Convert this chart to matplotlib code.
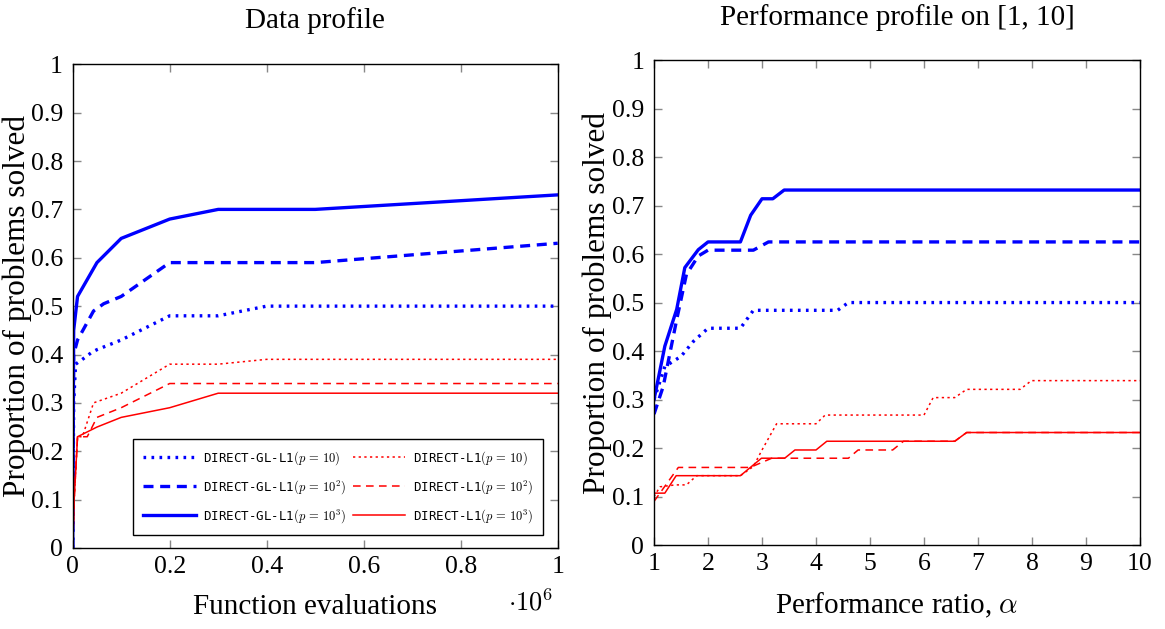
import numpy as np
import matplotlib.pyplot as plt
from matplotlib.ticker import FuncFormatter

plt.rcParams['font.family'] = ['Liberation Serif', 'DejaVu Serif']
plt.rcParams['mathtext.fontset'] = 'cm'

# ---- data profile (x = function evaluations) ----
dp_gl10_x = [0, 2000, 6000, 20000, 40000, 50000, 100000, 200000, 300000, 400000, 1000000]
dp_gl10_y = [0, 0.30, 0.38, 0.39, 0.405, 0.41, 0.43, 0.48, 0.48, 0.50, 0.50]
dp_gl100_x = [0, 2000, 10000, 43000, 64000, 100000, 200000, 500000, 1000000]
dp_gl100_y = [0, 0.40, 0.43, 0.49, 0.505, 0.52, 0.59, 0.59, 0.63]
dp_gl1000_x = [0, 2000, 10000, 50000, 100000, 200000, 300000, 500000, 1000000]
dp_gl1000_y = [0, 0.45, 0.52, 0.59, 0.64, 0.68, 0.70, 0.70, 0.73]
dp_l10_x = [0, 3000, 10000, 20000, 43000, 100000, 200000, 300000, 400000, 1000000]
dp_l10_y = [0, 0.10, 0.23, 0.23, 0.30, 0.32, 0.38, 0.38, 0.39, 0.39]
dp_l100_x = [0, 3000, 10000, 30000, 50000, 100000, 200000, 1000000]
dp_l100_y = [0, 0.10, 0.23, 0.23, 0.27, 0.29, 0.34, 0.34]
dp_l1000_x = [0, 3000, 10000, 30000, 50000, 100000, 200000, 300000, 1000000]
dp_l1000_y = [0, 0.10, 0.23, 0.24, 0.25, 0.27, 0.29, 0.32, 0.32]

# ---- performance profile (x = performance ratio alpha) ----
pp_gl10_x = [1, 1.2, 1.5, 1.73, 2.0, 2.6, 2.84, 4.4, 4.6, 10]
pp_gl10_y = [0.30, 0.368, 0.389, 0.42, 0.447, 0.447, 0.484, 0.484, 0.50, 0.50]
pp_gl100_x = [1, 1.17, 1.42, 1.6, 1.82, 2.0, 2.84, 3.12, 10]
pp_gl100_y = [0.27, 0.327, 0.465, 0.558, 0.596, 0.608, 0.608, 0.625, 0.625]
pp_gl1000_x = [1, 1.2, 1.42, 1.57, 1.82, 2.0, 2.6, 2.79, 3.0, 3.2, 3.41, 10]
pp_gl1000_y = [0.30, 0.41, 0.486, 0.572, 0.609, 0.625, 0.625, 0.68, 0.714, 0.714, 0.732, 0.732]
pp_l10_x = [1, 1.11, 1.39, 1.6, 1.79, 2.6, 2.84, 3.0, 3.27, 4.0, 4.17, 6.0, 6.17, 6.57, 6.79, 7.78, 7.99, 10]
pp_l10_y = [0.10, 0.12, 0.124, 0.124, 0.143, 0.143, 0.162, 0.196, 0.25, 0.25, 0.268, 0.268, 0.304, 0.304, 0.321, 0.321, 0.339, 0.339]
pp_l100_x = [1, 1.45, 2.78, 3.18, 4.6, 4.78, 5.42, 5.62, 6.57, 6.79, 10]
pp_l100_y = [0.09, 0.16, 0.16, 0.179, 0.179, 0.196, 0.196, 0.214, 0.214, 0.232, 0.232]
pp_l1000_x = [1, 1.2, 1.41, 2.6, 2.99, 3.42, 3.61, 4.0, 4.2, 6.57, 6.79, 10]
pp_l1000_y = [0.107, 0.107, 0.143, 0.143, 0.179, 0.179, 0.196, 0.196, 0.214, 0.214, 0.232, 0.232]

labels = [r'DIRECT-GL-L1$(p\,=\,10)$', r'DIRECT-GL-L1$(p\,=\,10^2)$', r'DIRECT-GL-L1$(p\,=\,10^3)$',
          r'DIRECT-L1$(p\,=\,10)$', r'DIRECT-L1$(p\,=\,10^2)$', r'DIRECT-L1$(p\,=\,10^3)$']
styles = [dict(color='#0000ff', lw=2.4, ls=(0, (0.8, 1.6))),
          dict(color='#0000ff', lw=2.4, ls=(0, (3, 2))),
          dict(color='#0000ff', lw=2.4, ls='-'),
          dict(color='#ff0000', lw=1.1, ls=(0, (1.5, 2.2))),
          dict(color='#ff0000', lw=1.1, ls=(0, (5, 3.5))),
          dict(color='#ff0000', lw=1.1, ls='-')]

fig = plt.figure(figsize=(11.65, 6.29), dpi=100)
ax1 = fig.add_axes([0.0624, 0.1288, 0.4163, 0.769])
ax2 = fig.add_axes([0.5614, 0.1335, 0.4171, 0.771])

dp = [(dp_gl10_x, dp_gl10_y), (dp_gl100_x, dp_gl100_y), (dp_gl1000_x, dp_gl1000_y),
      (dp_l10_x, dp_l10_y), (dp_l100_x, dp_l100_y), (dp_l1000_x, dp_l1000_y)]
pp = [(pp_gl10_x, pp_gl10_y), (pp_gl100_x, pp_gl100_y), (pp_gl1000_x, pp_gl1000_y),
      (pp_l10_x, pp_l10_y), (pp_l100_x, pp_l100_y), (pp_l1000_x, pp_l1000_y)]

handles = []
for (x, y), st, lab in zip(dp, styles, labels):
    h, = ax1.plot(np.array(x) / 1e6, y, label=lab, **st)
    handles.append(h)
for (x, y), st in zip(pp, styles):
    ax2.plot(x, y, **st)

fmt = FuncFormatter(lambda v, p: ('%g' % round(v, 2)))
for ax in (ax1, ax2):
    ax.set_ylim(0, 1)
    ax.set_yticks(np.arange(0, 1.01, 0.1))
    ax.yaxis.set_major_formatter(fmt)
    ax.xaxis.set_major_formatter(fmt)
    ax.tick_params(direction='in', length=6, width=1, color='#888888',
                   top=True, right=True, labelsize=18.5)
    ax.tick_params(axis='y', pad=7)
    ax.tick_params(axis='x', pad=6)
    for s in ax.spines.values():
        s.set_linewidth(1.0)
    ax.set_ylabel('Proportion of problems solved', fontsize=22.5)

ax1.set_xlim(0, 1)
ax1.set_xticks(np.arange(0, 1.01, 0.2))
ax1.text(0.5, 1.091, 'Data profile', transform=ax1.transAxes, fontsize=21, ha='center', va='center')
ax1.set_xlabel('Function evaluations', fontsize=21)
ax1.yaxis.set_label_coords(-0.083, 0.5)
ax1.xaxis.set_label_coords(0.5, -0.095)
ax1.text(0.945, -0.112, r'$\cdot10^6$', transform=ax1.transAxes, fontsize=19, ha='center', va='center')

ax2.set_xlim(1, 10)
ax2.set_xticks(range(1, 11))
ax2.text(0.5, 1.087, 'Performance profile on [1, 10]', transform=ax2.transAxes, fontsize=21,
         ha='center', va='center')
ax2.set_xlabel(r'Performance ratio, $\alpha$', fontsize=21)
ax2.yaxis.set_label_coords(-0.086, 0.5)
ax2.xaxis.set_label_coords(0.5, -0.095)

leg = ax1.legend(handles=handles, ncol=2, loc='lower right', bbox_to_anchor=(0.97, 0.027),
                 prop={'family': 'DejaVu Sans Mono', 'size': 9}, fancybox=False,
                 edgecolor='black', framealpha=1, handlelength=4.2, columnspacing=0.5,
                 labelspacing=0.9, borderpad=0.8, handletextpad=0.6, borderaxespad=0)
leg.get_frame().set_linewidth(1.0)

fig.savefig('out.png', dpi=100)
